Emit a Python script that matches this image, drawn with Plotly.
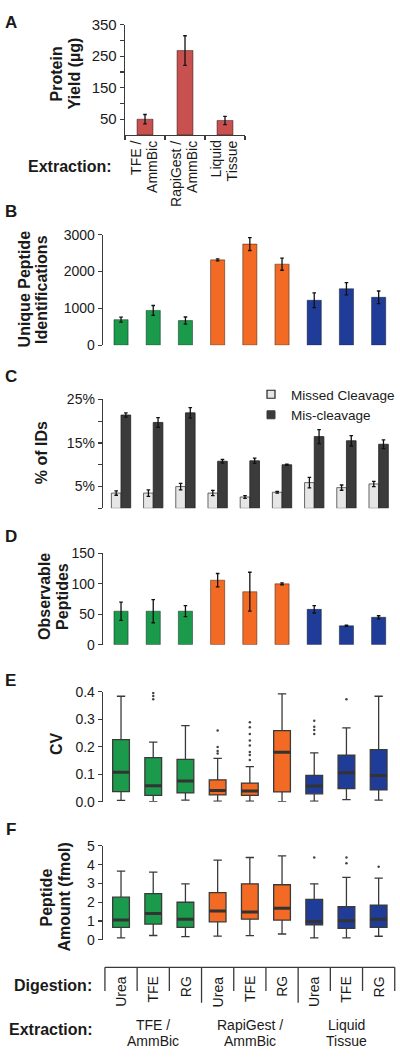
import plotly.graph_objects as go

W, H = 400, 1059
FONT = "Liberation Sans, Arial, sans-serif"
TXT = "#1a1a1a"
AX = "#3a3a3a"

# ---------------- data ----------------
extraction_lines = [["TFE /", "AmmBic"], ["RapiGest /", "AmmBic"], ["Liquid", "Tissue"]]
digestions = ["Urea", "TFE", "RG"]
group_colors = ["#1b9a4b", "#f26a23", "#1f3c98"]

protein_yield = [50, 268, 46]
protein_err = [15, 47, 13]

unique_ids = [694, 944, 668, 2315, 2743, 2199, 1220, 1532, 1300]
unique_err = [67, 133, 98, 27, 174, 165, 200, 165, 170]

missed_cleavage = [3.5, 3.5, 5.0, 3.5, 2.6, 3.7, 5.9, 4.75, 5.6]
missed_err = [0.5, 0.75, 0.75, 0.6, 0.3, 0.2, 1.2, 0.6, 0.6]
mis_cleavage = [21.4, 19.7, 21.9, 10.8, 10.9, 10.0, 16.45, 15.5, 14.7]
mis_err = [0.5, 1.1, 1.2, 0.4, 0.6, 0.15, 1.6, 1.2, 1.0]

observable = [55, 55, 55, 106, 87, 100, 58, 31, 45]
observable_err = [15, 19, 9, 11, 32, 1.5, 6, 1, 2.5]

cv_low = [0.005, 0.0, 0.006, 0.002, 0.002, 0.0, 0.002, 0.008, 0.006]
cv_q1 = [0.037, 0.023, 0.032, 0.025, 0.023, 0.036, 0.029, 0.048, 0.043]
cv_med = [0.107, 0.058, 0.076, 0.041, 0.039, 0.180, 0.057, 0.106, 0.096]
cv_q3 = [0.226, 0.161, 0.154, 0.080, 0.068, 0.259, 0.096, 0.170, 0.190]
cv_high = [0.384, 0.217, 0.277, 0.158, 0.128, 0.393, 0.178, 0.269, 0.384]
cv_outliers = [[], [0.373, 0.385, 0.396], [], [0.176, 0.185, 0.199, 0.259],
               [0.152, 0.170, 0.181, 0.205, 0.223, 0.247, 0.271, 0.289], [],
               [0.247, 0.261, 0.273, 0.295], [0.373], []]

amt_low = [0.10, 0.23, 0.17, 0.20, 0.22, 0.31, 0.10, 0.10, 0.19]
amt_q1 = [0.66, 0.84, 0.66, 0.96, 1.10, 1.05, 0.79, 0.61, 0.66]
amt_med = [1.06, 1.40, 1.10, 1.54, 1.48, 1.68, 0.98, 1.01, 1.10]
amt_q3 = [2.27, 2.46, 2.00, 2.51, 2.98, 2.93, 2.15, 1.76, 1.85]
amt_high = [3.66, 3.60, 2.98, 4.24, 4.38, 4.47, 2.98, 3.32, 3.28]
amt_outliers = [[], [], [], [], [], [], [4.38], [4.07, 4.38], [3.89]]

# ---------------- helpers ----------------
n = len(unique_ids)
xs = list(range(n))
colors = [group_colors[i // 3] for i in xs]
px = lambda x: x / W
py = lambda y: 1 - y / H

fig = go.Figure()
err_style = dict(type="data", color="#111", thickness=1.3, width=1.8)
outline = dict(color="rgba(0,0,0,0.5)", width=0.8)

# A
fig.add_trace(go.Bar(x=list(range(3)), y=protein_yield, width=0.4,
                     marker=dict(color="#c8504e", line=outline),
                     error_y=dict(array=protein_err, **err_style),
                     xaxis="x", yaxis="y", showlegend=False))
# B
fig.add_trace(go.Bar(x=xs, y=unique_ids, width=0.44,
                     marker=dict(color=colors, line=outline),
                     error_y=dict(array=unique_err, **err_style),
                     xaxis="x2", yaxis="y2", showlegend=False))
# C
fig.add_trace(go.Bar(x=xs, y=missed_cleavage, width=0.3, offset=-0.3,
                     marker=dict(color="#e6e6e6", line=dict(color="#444", width=0.8)),
                     error_y=dict(array=missed_err, **err_style),
                     xaxis="x3", yaxis="y3", showlegend=False))
fig.add_trace(go.Bar(x=xs, y=mis_cleavage, width=0.3, offset=0.0,
                     marker=dict(color="#3b3b3b", line=dict(color="#222", width=0.8)),
                     error_y=dict(array=mis_err, **err_style),
                     xaxis="x3", yaxis="y3", showlegend=False))
fig.add_trace(go.Scatter(x=[None], y=[None], mode="markers", name="Missed Cleavage",
                         marker=dict(symbol="square", size=8, color="#e6e6e6",
                                     line=dict(color="#222", width=1.2)),
                         xaxis="x3", yaxis="y3"))
fig.add_trace(go.Scatter(x=[None], y=[None], mode="markers", name="Mis-cleavage",
                         marker=dict(symbol="square", size=8, color="#3b3b3b",
                                     line=dict(color="#3b3b3b", width=1)),
                         xaxis="x3", yaxis="y3"))
# D
fig.add_trace(go.Bar(x=xs, y=observable, width=0.44,
                     marker=dict(color=colors, line=outline),
                     error_y=dict(array=observable_err, **err_style),
                     xaxis="x4", yaxis="y4", showlegend=False))


def add_boxes(low, q1, med, q3, high, outl, xa, ya):
    for g in range(3):
        idx = [i for i in xs if i // 3 == g]
        fig.add_trace(go.Box(
            x=idx, q1=[q1[i] for i in idx], median=[med[i] for i in idx],
            q3=[q3[i] for i in idx], lowerfence=[low[i] for i in idx],
            upperfence=[high[i] for i in idx], orientation="v",
            width=0.52, fillcolor=group_colors[g], boxpoints=False,
            line=dict(color="#3a3a3a", width=1.3),
            xaxis=xa, yaxis=ya, showlegend=False, hoverinfo="skip"))
    mx, my = [], []
    for i in xs:
        mx += [i - 0.26, i + 0.26, None]
        my += [med[i], med[i], None]
    fig.add_trace(go.Scatter(x=mx, y=my, mode="lines",
                             line=dict(color="#333", width=3),
                             xaxis=xa, yaxis=ya, showlegend=False))
    ox, oy = [], []
    for i in xs:
        for v in outl[i]:
            ox.append(i)
            oy.append(v)
    fig.add_trace(go.Scatter(x=ox, y=oy, mode="markers",
                             marker=dict(color="#444", size=2.5),
                             xaxis=xa, yaxis=ya, showlegend=False))


add_boxes(cv_low, cv_q1, cv_med, cv_q3, cv_high, cv_outliers, "x5", "y5")
add_boxes(amt_low, amt_q1, amt_med, amt_q3, amt_high, amt_outliers, "x6", "y6")

# ---------------- axes ----------------
def yax(top, bottom, rng, tickvals, ticktext, anchor, size=14):
    return dict(domain=[py(bottom), py(top)], range=rng, tickvals=tickvals,
                ticktext=ticktext, showline=True, linecolor=AX, linewidth=1.3,
                ticks="outside", ticklen=4, tickcolor=AX, tickwidth=1.2,
                tickfont=dict(size=size, color=TXT), showgrid=False,
                zeroline=False, anchor=anchor, fixedrange=True)


def xhidden(anchor):
    return dict(domain=[px(103), px(397)], range=[-0.56, 8.57], visible=False,
                anchor=anchor, fixedrange=True)


layout = dict(
    width=W, height=H, margin=dict(l=0, r=0, t=0, b=0),
    paper_bgcolor="white", plot_bgcolor="rgba(0,0,0,0)",
    font=dict(family=FONT, color=TXT), barmode="overlay", boxmode="overlay",
    showlegend=True,
    legend=dict(x=px(251), y=py(376), xanchor="left", yanchor="top",
                font=dict(size=13.5, color=TXT), bgcolor="rgba(0,0,0,0)",
                tracegroupgap=0, itemwidth=30),
    xaxis=dict(domain=[px(125), px(245)], range=[-0.5, 2.5],
               tickvals=[-0.5, 0.5, 1.5, 2.5], showticklabels=False,
               ticks="outside", ticklen=4, tickcolor=AX, tickwidth=1.2,
               showline=True, linecolor=AX, linewidth=1.3, showgrid=False,
               zeroline=False, anchor="y", fixedrange=True),
    yaxis=yax(16, 128, [0, 350], [50, 100, 150, 200, 250, 300, 350],
              ["50", "", "150", "", "250", "", "350"], "x", size=15),
    xaxis2=xhidden("y2"),
    yaxis2=yax(229.3, 341.7, [0, 3000], [0, 1000, 2000, 3000],
               ["0", "1000", "2000", "3000"], "x2"),
    xaxis3=xhidden("y3"),
    yaxis3=yax(396.7, 507.5, [0, 25], [0, 5, 10, 15, 20, 25],
               ["", "5%", "", "15%", "", "25%"], "x3"),
    xaxis4=xhidden("y4"),
    yaxis4=yax(553.3, 646, [0, 150], [0, 50, 100, 150],
               ["0", "50", "100", "150"], "x4"),
    xaxis5=xhidden("y5"),
    yaxis5=yax(694, 805.7, [0, 0.4], [0, 0.1, 0.2, 0.3, 0.4],
               ["0.0", "0.1", "0.2", "0.3", "0.4"], "x5"),
    xaxis6=xhidden("y6"),
    yaxis6=yax(850.5, 946, [0, 5], [0, 1, 2, 3, 4, 5],
               ["0", "1", "2", "3", "4", "5"], "x6"),
)
fig.update_layout(**layout)

# ---------------- annotations ----------------
ann = []


def text(x, y, s, size=16, bold=True, angle=0, xanchor="center", yanchor="middle",
         xref="paper", xshift=0):
    ann.append(dict(x=x, y=y, xref=xref, yref="paper", text=f"<b>{s}</b>" if bold else s,
                    showarrow=False, textangle=angle, xanchor=xanchor, yanchor=yanchor,
                    xshift=xshift, font=dict(size=size, color=TXT, family=FONT)))


for letter, (lx, ly) in zip("ABCDEF", [(10.5, 14), (10.5, 205.5), (10.5, 373.5),
                                         (10.5, 536), (10.5, 682), (10.5, 834)]):
    text(px(lx), py(ly), letter, size=17)

ytitles = [
    (["Protein", "Yield (µg)"], [56.5, 74.5], 66),
    (["Unique Peptide", "Identifications"], [24, 41.5], 285),
    (["% of IDs"], [41.5], 451),
    (["Observable", "Peptides"], [44.5, 62.5], 597),
    (["CV"], [56], 747),
    (["Peptide", "Amount (fmol)"], [47, 65], 903),
]
for lines, xsp, yc in ytitles:
    for s, xc in zip(lines, xsp):
        text(px(xc), py(yc), s, size=16, angle=-90)

text(px(70), py(160.4), "Extraction:", size=16)
text(px(53), py(992), "Digestion:", size=16)
text(px(51), py(1037), "Extraction:", size=16)

# panel A category labels (rotated)
for i, lines in enumerate(extraction_lines):
    for s, sh in zip(lines, [-9, 7]):
        text(i, py(132), s, size=14, bold=False, angle=-90, yanchor="top",
             xref="x", xshift=sh)

# digestion labels
for i in xs:
    text(i, py(981), digestions[i % 3], size=14, bold=False, angle=-90,
         yanchor="top", xref="x6")

# bottom extraction labels
for g, lines in enumerate(extraction_lines):
    for s, yc in zip(lines, [1033, 1049]):
        text(3 * g + 1, py(yc), s, size=14, bold=False, xref="x6")

fig.update_layout(annotations=ann)

# ---------------- digestion table lines ----------------
shapes = [dict(type="line", xref="x6", yref="paper", x0=-0.5, x1=n - 0.5,
               y0=py(974), y1=py(974), line=dict(color=AX, width=1.3))]
for k in range(n + 1):
    b = k - 0.5
    long_ = (k % 3 == 0) and 0 < k < n
    shapes.append(dict(type="line", xref="x6", yref="paper", x0=b, x1=b,
                       y0=py(974), y1=py(1010 if long_ else 998),
                       line=dict(color=AX, width=1.3)))
fig.update_layout(shapes=shapes)

fig.write_html("out.html", config={"displayModeBar": False, "staticPlot": True},
               post_script="document.body.style.margin='0px';document.body.style.overflow='hidden';")
